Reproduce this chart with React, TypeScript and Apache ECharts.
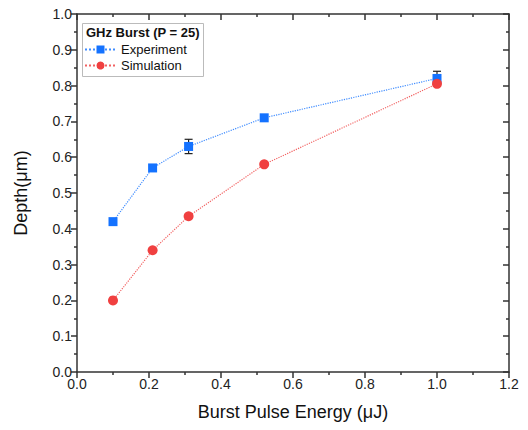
import React, { useEffect, useRef } from "react";
import * as echarts from "echarts";

const energy = [0.1, 0.21, 0.31, 0.52, 1.0];
const experiment = [0.42, 0.57, 0.63, 0.71, 0.82];
const experimentErr = [0, 0, 0.02, 0, 0.02];
const simulation = [0.2, 0.34, 0.435, 0.58, 0.805];
const legendTitle = "GHz Burst (P = 25)";
const xName = "Burst Pulse Energy (\u03bcJ)";
const yName = "Depth(\u03bcm)";

const FONT = "'Liberation Sans', Arial, sans-serif";
const BLUE = "#1472ff";
const RED = "#f04040";
const AXIS = "#333333";

export default function App() {
  const ref = useRef<HTMLDivElement>(null);
  useEffect(() => {
    if (!ref.current) return;
    const chart = echarts.init(ref.current, undefined, { renderer: "svg" });
    const expData = energy.map((x, i) => [x, experiment[i]]);
    const simData = energy.map((x, i) => [x, simulation[i]]);
    const errData = energy.map((x, i) => [x, experiment[i] - experimentErr[i], experiment[i] + experimentErr[i]]);
    const mainAxisX = {
      type: "value",
      min: 0,
      max: 1.2,
      interval: 0.2,
      position: "bottom",
      name: xName,
      nameLocation: "middle",
      nameGap: 31,
      nameTextStyle: { fontFamily: FONT, fontSize: 18, color: "#111" },
      axisLine: { show: true, onZero: false, lineStyle: { color: AXIS, width: 1.5 } },
      axisTick: { show: true, inside: false, length: 6, lineStyle: { color: AXIS, width: 1.5 } },
      minorTick: { show: true, splitNumber: 2, length: 3, lineStyle: { color: AXIS, width: 1.5 } },
      axisLabel: { fontFamily: FONT, fontSize: 14, color: "#222", margin: 5, formatter: (v: number) => v.toFixed(1) },
      splitLine: { show: false },
    };
    const mainAxisY = {
      type: "value",
      min: 0,
      max: 1.0,
      interval: 0.1,
      position: "left",
      name: yName,
      nameLocation: "middle",
      nameGap: 47,
      nameTextStyle: { fontFamily: FONT, fontSize: 18, color: "#111" },
      axisLine: { show: true, onZero: false, lineStyle: { color: AXIS, width: 1.5 } },
      axisTick: { show: true, inside: false, length: 6, lineStyle: { color: AXIS, width: 1.5 } },
      minorTick: { show: true, splitNumber: 2, length: 3, lineStyle: { color: AXIS, width: 1.5 } },
      axisLabel: { fontFamily: FONT, fontSize: 14, color: "#222", margin: 5, formatter: (v: number) => v.toFixed(1) },
      splitLine: { show: false },
    };
    const mirror = (base: any, pos: string) => ({
      ...base,
      position: pos,
      name: "",
      axisTick: { ...base.axisTick, inside: true },
      minorTick: { ...base.minorTick },
      axisLabel: { show: false },
    });
    chart.setOption({
      animation: false,
      backgroundColor: "#ffffff",
      grid: { left: 77, right: 19, top: 14, bottom: 58, containLabel: false },
      xAxis: [mainAxisX, mirror(mainAxisX, "top")],
      yAxis: [mainAxisY, mirror(mainAxisY, "right")],
      legend: {
        orient: "vertical",
        left: 84,
        top: 42,
        padding: 0,
        itemWidth: 31,
        itemHeight: 10,
        itemGap: 1,
        textStyle: { fontFamily: FONT, fontSize: 13, color: "#111", lineHeight: 15 },
        data: ["Experiment", "Simulation"],
      },
      graphic: [
        {
          type: "rect",
          left: 82,
          top: 23,
          shape: { width: 121, height: 53 },
          style: { fill: "#fff", stroke: "#bbbbbb", lineWidth: 1 },
          z: 1,
        },
        {
          type: "text",
          left: 86,
          top: 26,
          style: { text: legendTitle, fontFamily: FONT, fontSize: 13, fontWeight: "bold", fill: "#111" },
          z: 2,
        },
      ],
      series: [
        {
          name: "ExpErr",
          type: "custom",
          data: errData,
          z: 2,
          renderItem: (params: any, api: any) => {
            const x = api.value(0);
            if (api.value(2) - api.value(1) <= 0) return { type: "group", children: [] };
            const lo = api.coord([x, api.value(1)]);
            const hi = api.coord([x, api.value(2)]);
            const w = 4;
            const s = { stroke: "#222", lineWidth: 1.2 };
            return {
              type: "group",
              children: [
                { type: "line", shape: { x1: lo[0], y1: lo[1], x2: hi[0], y2: hi[1] }, style: s },
                { type: "line", shape: { x1: hi[0] - w, y1: hi[1], x2: hi[0] + w, y2: hi[1] }, style: s },
                { type: "line", shape: { x1: lo[0] - w, y1: lo[1], x2: lo[0] + w, y2: lo[1] }, style: s },
              ],
            };
          },
        },
        {
          name: "Experiment",
          type: "line",
          data: expData,
          symbol: "rect",
          symbolSize: 9,
          itemStyle: { color: BLUE },
          lineStyle: { color: "#3f8cff", width: 1.2, type: "dotted" },
          z: 3,
        },
        {
          name: "Simulation",
          type: "line",
          data: simData,
          symbol: "circle",
          symbolSize: 10,
          itemStyle: { color: RED },
          lineStyle: { color: "#f26262", width: 1.2, type: "dotted" },
          z: 4,
        },
      ],
    });
    return () => chart.dispose();
  }, []);
  return <div ref={ref} style={{ position: "fixed", left: 0, top: 0, width: 528, height: 430 }} />;
}
